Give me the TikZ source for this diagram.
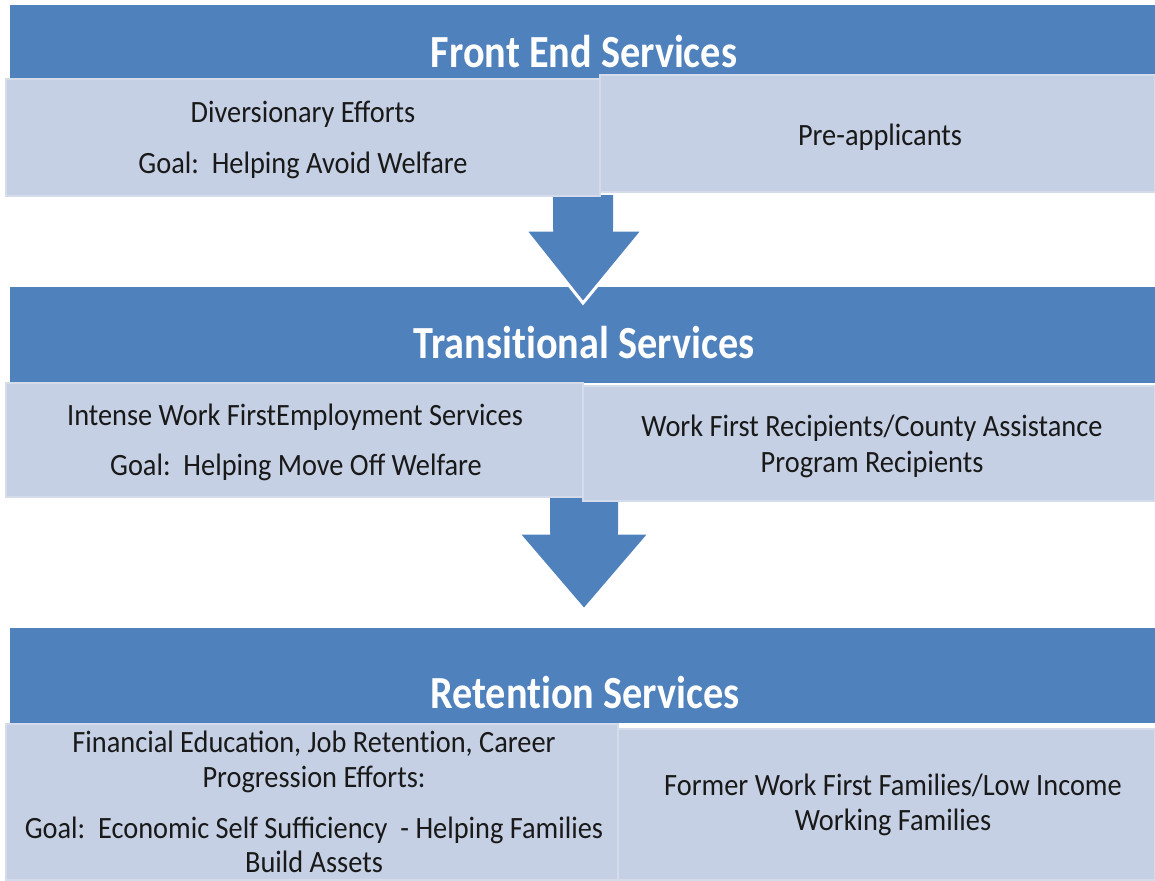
\documentclass[tikz,border=0pt]{standalone}
\usepackage{fontspec}
\setmainfont{Carlito}[FakeStretch=0.915]
\newfontfamily\titlefont{Carlito}[FakeStretch=0.875]
\definecolor{bandblue}{RGB}{79,129,189}
\definecolor{boxfill}{RGB}{197,208,228}
\definecolor{boxedge}{RGB}{212,220,235}
\begin{document}
\begin{tikzpicture}[x=1pt,y=-1pt,
  band/.style={fill=bandblue},
  subbox/.style={fill=boxfill,draw=boxedge,line width=2pt},
  bigarrow/.style={fill=bandblue},
  arrowrim/.style={draw=white,line width=3pt,line join=miter},
  title/.style={text=white,font=\titlefont\fontsize{46}{50}\selectfont\bfseries,anchor=base,inner sep=0pt},
  body/.style={text=black!90,font=\fontsize{31}{36}\selectfont,anchor=base,inner sep=0pt}]
\useasboundingbox[fill=white] (0,0) rectangle (1155,880);
% bands
\path[band] (10,5) rectangle (1155,78);
\path[band] (10,287) rectangle (1155,383);
\path[band] (10,628) rectangle (1155,723);
% arrows
\path[bigarrow] (553,195) -- (613,195) -- (613,230) -- (643,230) -- (583,303) -- (525,230) -- (553,230) -- cycle;
\draw[arrowrim] (613,230) -- (643,230) -- (583,303) -- (525,230) -- (553,230);
\path[bigarrow] (550,498) -- (618,498) -- (618,533) -- (650,533) -- (584,610) -- (518,533) -- (550,533) -- cycle;
\draw[arrowrim] (618,533) -- (650,533) -- (584,610) -- (518,533) -- (550,533);
% boxes
\path[subbox] (6,79) rectangle (600,196);
\path[subbox] (600,75) rectangle (1155,192);
\path[subbox] (6,383) rectangle (583,497);
\path[subbox] (583,386) rectangle (1155,501);
\path[subbox] (6,724) rectangle (618,880);
\path[subbox] (618,729) rectangle (1155,880);
% titles
\node[title] (t1) at (584,68) {Front End Services};
\node[title] (t2) at (584,358) {Transit\kern0pt ional Services};
\node[title] (t3) at (585,708) {Retent\kern0pt ion Services};
% texts
\node[body] (a1) at (303,122) {Diversionary Efforts};
\node[body] (a2) at (303,173) {Goal:\ \ Helping Avoid Welfare};
\node[body] (b1) at (880,145) {Pre-applicants};
\node[body] (c1) at (295,425) {Intense Work FirstEmployment Services};
\node[body] (c2) at (296,475) {Goal:\ \ Helping Move Off Welfare};
\node[body] (d1) at (872,436) {Work First Recipients/County Assistance};
\node[body] (d2) at (872,472) {Program Recipients};
\node[body] (e1) at (314,752) {Financial Education, Job Retent\kern0pt ion, Career};
\node[body] (e2) at (314,787) {Progression Efforts:};
\node[body] (e3) at (314,838) {Goal:\ \ Economic Self Sufficiency\ \ - Helping Families};
\node[body] (e4) at (314,872) {Build Assets};
\node[body] (f1) at (893,795) {Former Work First Families/Low Income};
\node[body] (f2) at (893,830) {Working Families};
\end{tikzpicture}
\end{document}
